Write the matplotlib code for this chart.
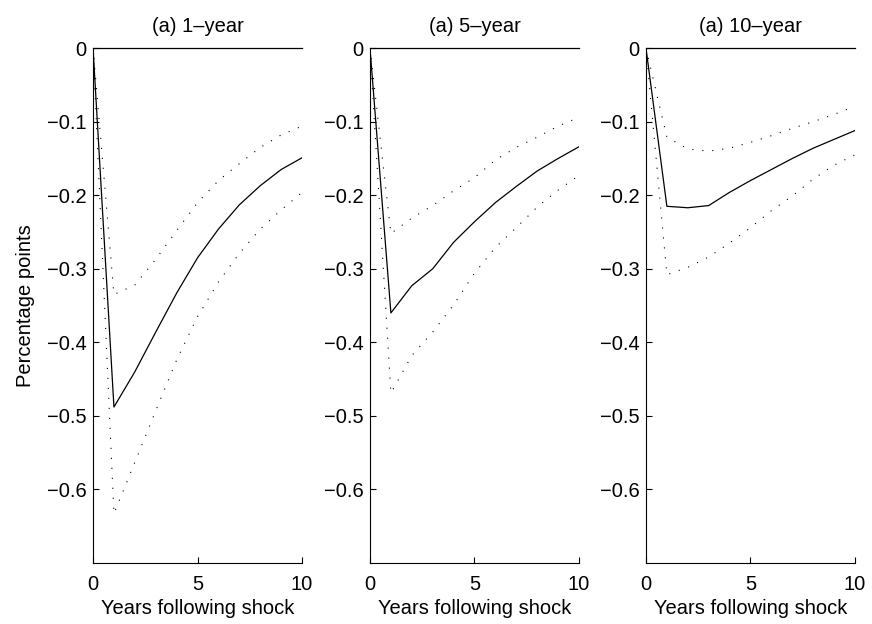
import numpy as np
import matplotlib.pyplot as plt
from matplotlib.ticker import FixedLocator, FuncFormatter

plt.rcParams['font.family'] = ['Liberation Sans', 'DejaVu Sans']

years = np.arange(0, 11)

titles = ['(a) 1\u2013year', '(a) 5\u2013year', '(a) 10\u2013year']

# impulse responses with lower / upper bands
resp_1y = [0, -0.488, -0.440, -0.386, -0.333, -0.285, -0.246, -0.213, -0.187, -0.165, -0.149]
upper_1y = [0, -0.335, -0.322, -0.287, -0.248, -0.210, -0.180, -0.157, -0.135, -0.118, -0.106]
lower_1y = [0, -0.633, -0.563, -0.493, -0.424, -0.365, -0.318, -0.279, -0.246, -0.220, -0.196]

resp_5y = [0, -0.360, -0.323, -0.300, -0.264, -0.236, -0.210, -0.188, -0.167, -0.150, -0.134]
upper_5y = [0, -0.252, -0.231, -0.214, -0.194, -0.176, -0.152, -0.135, -0.121, -0.106, -0.094]
lower_5y = [0, -0.469, -0.418, -0.386, -0.349, -0.306, -0.271, -0.244, -0.216, -0.193, -0.173]

resp_10y = [0, -0.215, -0.217, -0.214, -0.196, -0.180, -0.165, -0.150, -0.136, -0.124, -0.112]
upper_10y = [0, -0.121, -0.137, -0.140, -0.136, -0.128, -0.119, -0.109, -0.100, -0.090, -0.079]
lower_10y = [0, -0.308, -0.298, -0.284, -0.265, -0.244, -0.221, -0.201, -0.178, -0.159, -0.145]

responses = [resp_1y, resp_5y, resp_10y]
uppers = [upper_1y, upper_5y, upper_10y]
lowers = [lower_1y, lower_5y, lower_10y]

yticks = [0, -0.1, -0.2, -0.3, -0.4, -0.5, -0.6]
xticks = [0, 5, 10]

fig = plt.figure(figsize=(8.72, 6.24), dpi=100)
lefts = [0.1067, 0.4243, 0.7408]
fs = 14.5

def fmt(v, pos):
    if abs(v) < 1e-9:
        return '0'
    return ('%g' % v).replace('-', '\u2212')

for i in range(3):
    ax = fig.add_axes([lefts[i], 0.0978, 0.2397, 0.825])
    ax.plot(years, responses[i], color='black', lw=0.9)
    ax.plot(years, uppers[i], color='black', lw=0.8, linestyle=(0, (1, 8)))
    ax.plot(years, lowers[i], color='black', lw=0.8, linestyle=(0, (1, 8)))
    ax.plot([0, 10], [0, 0], color='black', lw=0.9, clip_on=False)
    ax.set_xlim(0, 10)
    ax.set_ylim(-0.7, 0)
    ax.spines['top'].set_visible(False)
    ax.spines['right'].set_visible(False)
    ax.spines['left'].set_linewidth(0.8)
    ax.spines['bottom'].set_linewidth(0.8)
    ax.xaxis.set_major_locator(FixedLocator(xticks))
    ax.yaxis.set_major_locator(FixedLocator(yticks))
    ax.yaxis.set_major_formatter(FuncFormatter(fmt))
    ax.tick_params(direction='in', length=4, width=0.8, labelsize=fs)
    ax.tick_params(axis='x', pad=9)
    ax.tick_params(axis='y', pad=4.5)
    ax.set_title(titles[i], fontsize=fs, pad=12)
    ax.set_xlabel('Years following shock', fontsize=fs, labelpad=3)
    if i == 0:
        ax.set_ylabel('Percentage points', fontsize=fs, labelpad=9)

fig.savefig('out.png', dpi=100)
